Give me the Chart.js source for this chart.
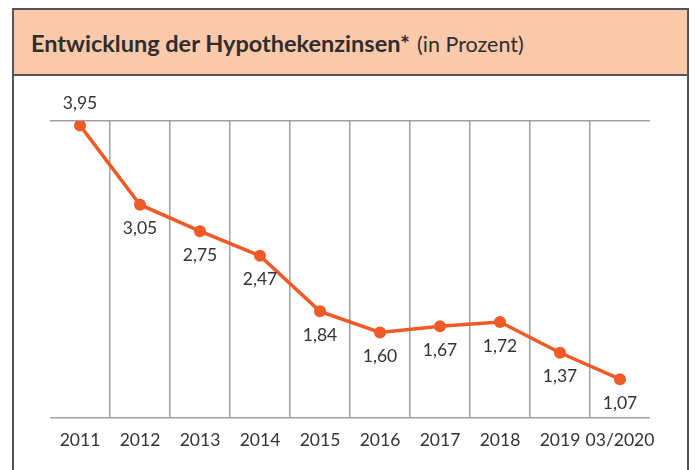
<!DOCTYPE html>
<html>
<head>
<meta charset="utf-8">
<script src="https://cdn.jsdelivr.net/npm/chart.js@4"></script>
<style>
  html, body { margin: 0; padding: 0; background: #fff; }
  body { width: 696px; height: 470px; position: relative; overflow: hidden; font-family: Lato, sans-serif; }
  .box { position: absolute; left: 12px; top: 8px; width: 677px; height: 480px; border: 2px solid #555; box-sizing: border-box; }
  .head { height: 66px; background: #fcc9ab; border-bottom: 2px solid #555; box-sizing: border-box; padding: 0 0 0 17px; line-height: 66px; color: #2e2e2e; white-space: nowrap; }
  .head b { font-size: 23.5px; font-weight: 700; }
  .head span { font-size: 21.5px; margin-left: 3px; }
  #wrap { position: absolute; left: 0; top: 0; width: 696px; height: 470px; }
</style>
</head>
<body>
<div class="box"><div class="head"><b>Entwicklung der Hypothekenzinsen*</b> <span>(in Prozent)</span></div></div>
<div id="wrap"><canvas id="myChart"></canvas></div>
<script>
const years = ['2011', '2012', '2013', '2014', '2015', '2016', '2017', '2018', '2019', '03/2020']
const rates = [3.95, 3.05, 2.75, 2.47, 1.84, 1.60, 1.67, 1.72, 1.37, 1.07]
const yLimits = [0.63, 4.0]

const orange = '#ef5a26'
const grey = '#a0a0a0'

// draws the value under (or above for the first one) each point
const valueLabels = {
    id: 'valueLabels',
    afterDatasetsDraw(chart){
        const ctx = chart.ctx
        const meta = chart.getDatasetMeta(0)
        ctx.save()
        ctx.font = '17.5px Lato'
        ctx.fillStyle = '#333'
        ctx.textAlign = 'center'
        ctx.textBaseline = 'middle'
        meta.data.forEach((pt, i) => {
            const txt = rates[i].toFixed(2).replace('.', ',')
            const dy = i === 0 ? -22 : 24
            ctx.fillText(txt, pt.x, pt.y + dy)
        })
        ctx.restore()
    }
}

const info = {
    labels: years,
    datasets: [{
        data: rates,
        borderColor: orange,
        backgroundColor: orange,
        borderWidth: 3.5,
        pointRadius: 6,
        pointBackgroundColor: orange,
        pointBorderWidth: 0,
        tension: 0
    }]
}

const options = {
    responsive: false,
    animation: false,
    layout: { padding: { left: 50, right: 46, top: 121, bottom: 7 } },
    scales: {
        x: {
            offset: true,
            grid: {
                offset: true,
                drawTicks: false,
                lineWidth: 1.5,
                color: (c) => (c.type !== 'tick' || c.index === 0) ? 'rgba(0,0,0,0)' : grey
            },
            border: { display: false },
            ticks: { color: '#333', font: { family: 'Lato', size: 17.5 }, padding: 12, autoSkip: false, maxRotation: 0 }
        },
        y: {
            min: yLimits[0],
            max: yLimits[1],
            afterBuildTicks: (scale) => { scale.ticks = yLimits.map(v => ({ value: v })) },
            grid: { drawTicks: false, lineWidth: 1.5, color: grey },
            border: { display: false },
            ticks: { display: false }
        }
    },
    plugins: {
        legend: { display: false },
        tooltip: { enabled: false }
    }
}

const canvas = document.getElementById('myChart')
canvas.width = 696
canvas.height = 470
new Chart(canvas, { type: 'line', data: info, options, plugins: [valueLabels] })
</script>
</body>
</html>
